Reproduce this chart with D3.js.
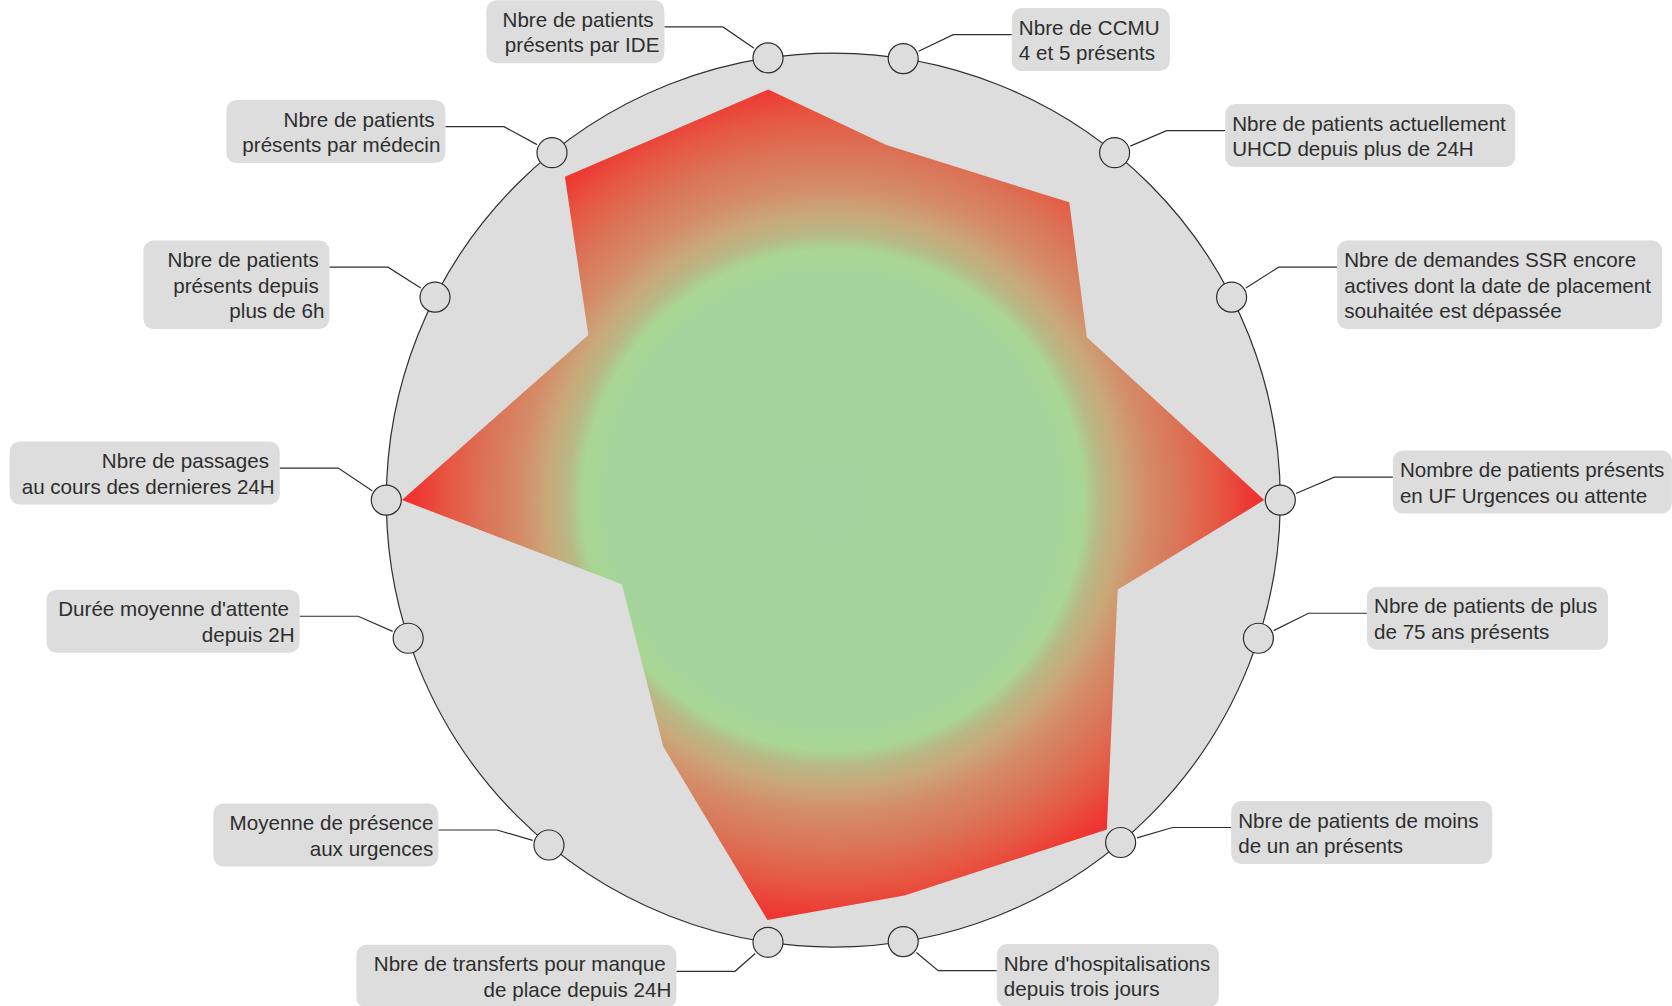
<!DOCTYPE html>
<html>
<head>
<meta charset="utf-8">
<script src="https://cdn.jsdelivr.net/npm/d3@7"></script>
<style>
  html, body { margin: 0; padding: 0; background: #ffffff; }
  svg { display: block; font-family: "Liberation Sans", Arial, sans-serif; }
  .lbl { white-space: pre; }
</style>
</head>
<body>
<svg id="chart" width="1672" height="1006"></svg>
<script>
// Indicator labels, clockwise from the top
const labels = [
  ["Nbre de patients ", "présents par IDE"],
  ["Nbre de CCMU", "4 et 5 présents"],
  ["Nbre de patients actuellement", "UHCD depuis plus de 24H"],
  ["Nbre de demandes SSR encore", "actives dont la date de placement", "souhaitée est dépassée"],
  ["Nombre de patients présents", "en UF Urgences ou attente"],
  ["Nbre de patients de plus", "de 75 ans présents"],
  ["Nbre de patients de moins", "de un an présents"],
  ["Nbre d'hospitalisations", "depuis trois jours"],
  ["Nbre de transferts pour manque ", "de place depuis 24H"],
  ["Moyenne de présence", "aux urgences"],
  ["Durée moyenne d'attente ", "depuis 2H"],
  ["Nbre de passages ", "au cours des dernieres 24H"],
  ["Nbre de patients ", "présents depuis ", "plus de 6h"],
  ["Nbre de patients ", "présents par médecin"]
];

// Direction of each indicator marker on the rim (degrees, clockwise from top)
const axisAngles = [-8.4, 9, 39, 63, 90, 108, 140, 171, 188.4, 219.5, 252, 270, 297, 321];

// Indicator levels (share of the full scale) and the direction of each level point
const values = [0.93, 0.803, 0.85, 0.674, 0.964, 0.667, 0.958, 0.899, 0.951, 0.67, 0.509, 0.965, 0.661, 0.94];
const valueAngles = [-9, 8.5, 38.4, 57.3, 90, 107.5, 140.3, 169.8, 188.9, 214.6, 248.3, 270, 304, 320.3];

// Leader elbow offsets from each marker (horizontal reach, vertical shift)
const leaderOffsets = [
  [45, -31], [50, -24], [52, -22], [47, -30], [54, -23], [50, -25], [52, -15],
  [35, 29], [33, 29], [52, -15], [50, -22], [48, -32], [47, -30], [48, -26]
];
// Width of each label box
const boxWidths = [178, 158, 290, 325, 279, 241, 261, 222, 320, 225, 253, 270, 186, 219];

const cx = 833.3, cy = 500.1, R = 447;
const markerR = 15;
const stubLen = 58.6;
const fontSize = 20.6, lineH = 25.5;
const ink = "#2e2e2e", paper = "#dcdddc";

const svg = d3.select("#chart");
const rScale = d3.scaleLinear().domain([0, 1]).range([0, R]);
const rad = d => d * Math.PI / 180;
const polar = (aDeg, r) => [cx + r * Math.sin(rad(aDeg)), cy - r * Math.cos(rad(aDeg))];

// Radial green-to-red gradient, centred on the dial (in the polygon's local frame)
const defs = svg.append("defs");
const grad = defs.append("radialGradient")
  .attr("id", "heat").attr("gradientUnits", "userSpaceOnUse")
  .attr("cx", 0).attr("cy", 0).attr("r", R);
[
  [0, "#a3d49f"], [0.50, "#a4d49c"], [0.56, "#a9d692"], [0.595, "#b7b985"],
  [0.64, "#c9a97a"], [0.70, "#d48d68"], [0.78, "#db7458"], [0.86, "#e65842"],
  [0.93, "#ee3833"], [0.98, "#ee2c2c"], [1, "#ee2c2c"]
].forEach(([o, c]) => grad.append("stop").attr("offset", o).attr("stop-color", c));

// Dial background
svg.append("circle")
  .attr("cx", cx).attr("cy", cy).attr("r", R)
  .attr("fill", paper).attr("stroke", ink).attr("stroke-width", 1.2);

// Indicator polygon
const pts = values.map((v, i) => ({ a: valueAngles[i], v }));
const radial = d3.lineRadial()
  .angle(d => rad(d.a))
  .radius(d => rScale(d.v))
  .curve(d3.curveLinearClosed);
svg.append("g")
  .attr("transform", `translate(${cx},${cy})`)
  .append("path")
  .attr("d", radial(pts))
  .attr("fill", "url(#heat)");

// Leaders, markers and label boxes
const layer = svg.append("g");
labels.forEach((lines, i) => {
  const a = axisAngles[i];
  const [mx, my] = polar(a, R);
  const side = Math.sin(rad(a)) < 0 ? -1 : 1;
  const [odx, ody] = leaderOffsets[i];
  const kx = mx + side * odx, ky = my + ody;
  const ex = kx + side * stubLen;

  // diagonal from the marker edge to the elbow, then horizontal stub
  const dx = kx - mx, dy = ky - my, dl = Math.hypot(dx, dy);
  const sx = mx + dx / dl * (markerR + 2), sy = my + dy / dl * (markerR + 2);
  layer.append("path")
    .attr("d", `M${sx},${sy}L${kx},${ky}L${ex},${ky}`)
    .attr("fill", "none").attr("stroke", ink).attr("stroke-width", 1.2);

  layer.append("circle")
    .attr("cx", mx).attr("cy", my).attr("r", markerR)
    .attr("fill", paper).attr("stroke", ink).attr("stroke-width", 1.2);

  const g = svg.append("g");
  const top = ky - 26.6;
  const bw = boxWidths[i];
  const bh = lines.length * lineH + 12;
  const bx = side < 0 ? ex - bw : ex;
  g.append("rect")
    .attr("x", bx).attr("y", top).attr("width", bw).attr("height", bh)
    .attr("rx", 10).attr("ry", 10).attr("fill", paper);
  const txt = g.append("text")
    .attr("class", "lbl")
    .attr("font-size", fontSize)
    .attr("fill", ink)
    .attr("text-anchor", side < 0 ? "end" : "start");
  lines.forEach((s, j) => {
    txt.append("tspan")
      .attr("x", side < 0 ? ex - 5 : ex + 7)
      .attr("y", top + 26.6 + j * lineH)
      .text(s);
  });
});
</script>
</body>
</html>
